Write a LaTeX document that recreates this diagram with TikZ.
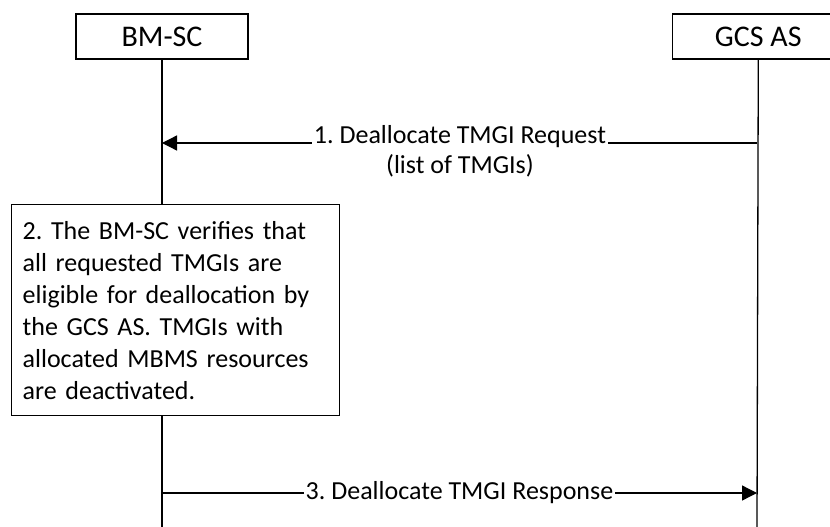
\documentclass[tikz,border=0pt]{standalone}
\usepackage{fontspec}
\setmainfont{Carlito}
\usetikzlibrary{positioning}
\usetikzlibrary{arrows.meta}
\frenchspacing
\tikzstyle{entity} = [rectangle, minimum width=172pt, minimum height=45pt, text centered, draw=black, line width=1.3pt, fill=white, font=\fontsize{30}{36}\selectfont]
\tikzstyle{process} = [rectangle, text width=306pt, inner xsep=11pt, minimum height=211pt, align=left, draw=black, line width=1.3pt, fill=white, font=\fontsize{26}{32}\selectfont]
\tikzstyle{lifeline} = [line width=1.3pt]
\tikzstyle{arrow} = [line width=1.3pt,-{Triangle[length=15pt,width=15pt]}]
\tikzstyle{msg} = [fill=white, inner xsep=2pt, inner ysep=0pt, align=center, font=\fontsize{26}{30}\selectfont]

\begin{document}
\begin{tikzpicture}[x=1pt,y=-1pt]
        \clip (0,0) rectangle (830,527);
        \node (bmsc) [entity] at (162,36.5) {BM-SC};
        \node (gcsas) [entity, right=423pt of bmsc] {GCS AS};
        \node (verify) [process, anchor=north west] at (11,204) {2. The BM-SC verifies that\\all requested TMGIs are\\eligible for deallocation by\\the GCS AS. TMGIs with\\allocated MBMS resources\\are deactivated.};

        \coordinate (bmscEnd) at (162,527);
        \coordinate (gcsasEnd) at (757,527);
        \coordinate (bmscReq) at (162,143);
        \coordinate (gcsasReq) at (757,143);
        \coordinate (bmscResp) at (162,493);
        \coordinate (gcsasResp) at (757,493);

        \draw [lifeline] (bmsc.south) -- (bmsc.south |- verify.north);
        \draw [lifeline] (bmsc.south |- verify.south) -- (bmscEnd);
        \draw [lifeline] (gcsas.south) -- (gcsasEnd);

        \draw [arrow] (gcsasReq) -- (bmscReq);
        \node (req) [msg, anchor=north] at (460,125) {1. Deallocate TMGI Request\\(list of TMGIs)};
        \draw [arrow] (bmscResp) -- node[msg] {3. Deallocate TMGI Response} (gcsasResp);
    \end{tikzpicture}
\end{document}
